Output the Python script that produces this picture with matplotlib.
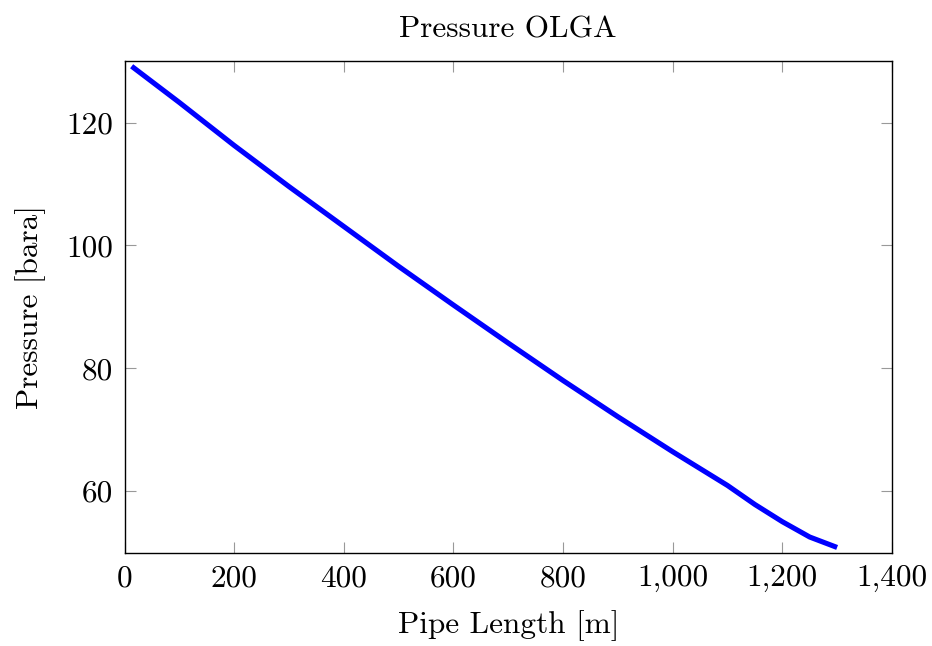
import matplotlib
matplotlib.use("Agg")
import matplotlib.pyplot as plt
from matplotlib.ticker import FuncFormatter, MultipleLocator

plt.rcParams['font.family'] = 'serif'
plt.rcParams['font.serif'] = ['cmr10', 'DejaVu Serif']
plt.rcParams['mathtext.fontset'] = 'cm'
plt.rcParams['axes.formatter.use_mathtext'] = True

pipe_length = [13, 100, 200, 300, 400, 500, 600, 700, 800, 900, 1000, 1100, 1150, 1200, 1250, 1300]
pressure = [129.2, 123.3, 116.3, 109.6, 103.1, 96.6, 90.3, 84.1, 78.0, 72.1, 66.4, 60.9, 57.8, 55.0, 52.5, 50.8]

fig = plt.figure(figsize=(9.32, 6.46), dpi=100)
ax = fig.add_axes([0.1336, 0.144, 0.957 - 0.1336, 0.906 - 0.144])
ax.plot(pipe_length, pressure, color='#0000ff', lw=3.7, solid_capstyle='butt')

ax.set_xlim(0, 1400)
ax.set_ylim(49.9, 130.1)
ax.xaxis.set_major_locator(MultipleLocator(200))
ax.yaxis.set_major_locator(MultipleLocator(20))
ax.xaxis.set_major_formatter(FuncFormatter(lambda v, p: f"{int(round(v)):,}"))
ax.yaxis.set_major_formatter(FuncFormatter(lambda v, p: f"{int(round(v))}"))

ax.tick_params(direction='in', top=True, right=True, length=8, width=0.8,
               color='#999999', labelsize=22.5, pad=8)
for s in ax.spines.values():
    s.set_linewidth(1.0)
    s.set_color('black')

ax.set_title('Pressure OLGA', fontsize=22.5, pad=17)
ax.set_xlabel('Pipe Length [m]', fontsize=22.5, labelpad=13)
ax.set_ylabel('Pressure [bara]', fontsize=22.5, labelpad=15)

fig.savefig('out.png', dpi=100)
